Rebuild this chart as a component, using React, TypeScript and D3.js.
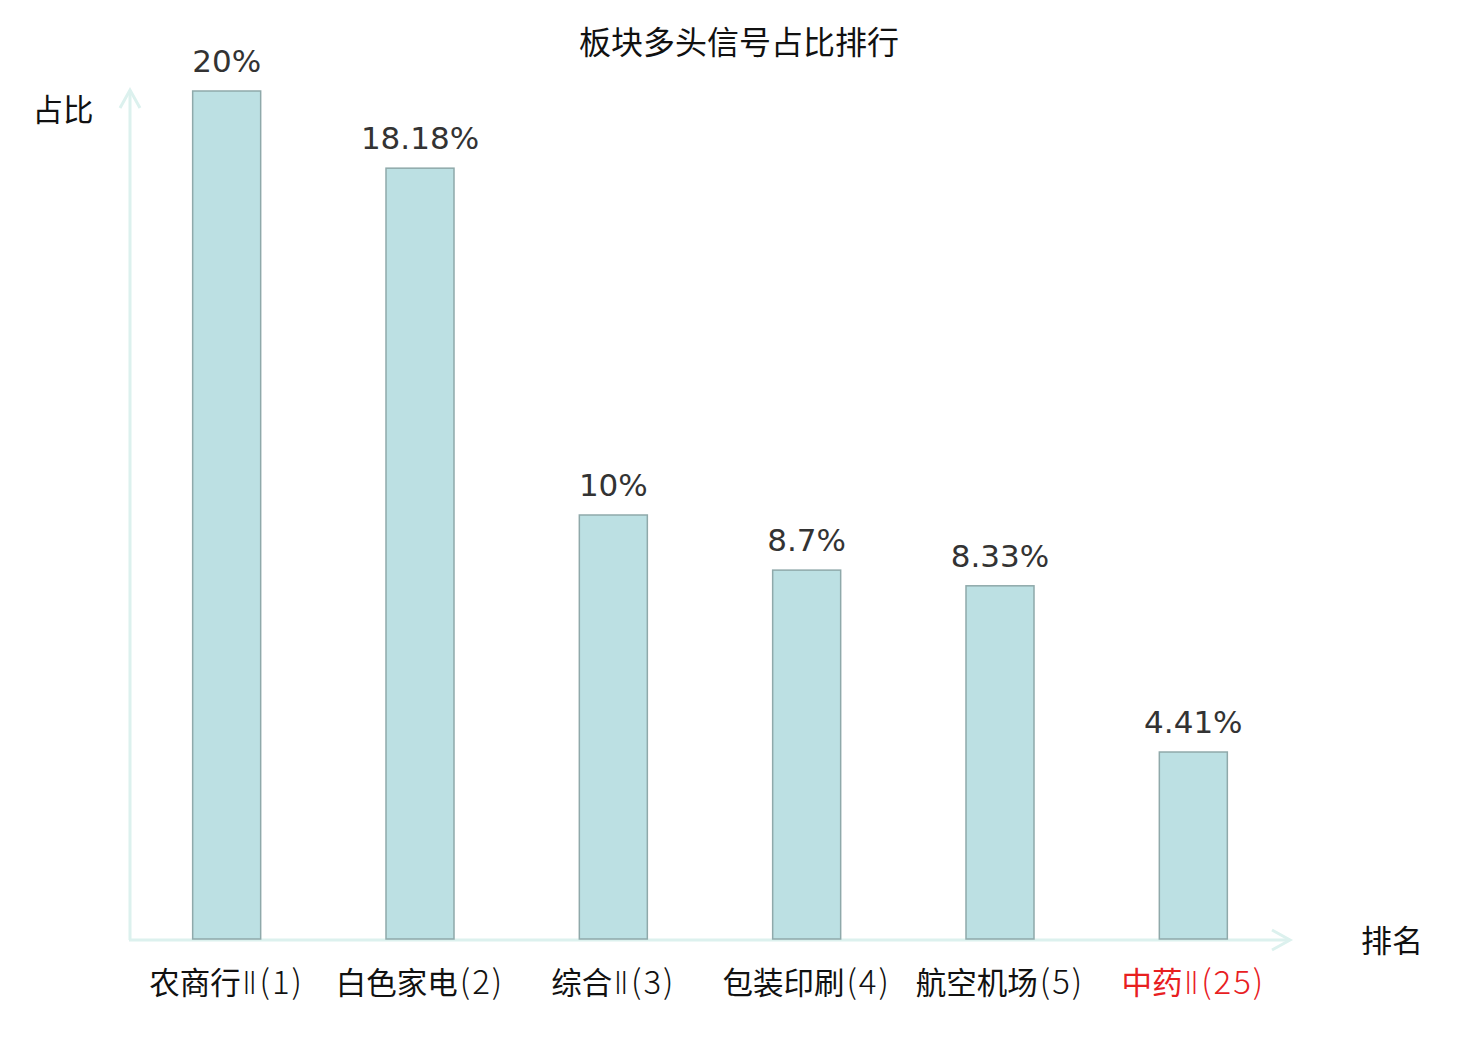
import React from "react";
import * as d3 from "d3";

const categories = ["农商行", "白色家电", "综合", "包装印刷", "航空机场", "中药"];
const suffixes = ["Ⅱ", "", "Ⅱ", "", "", "Ⅱ"];
const ranks = [1, 2, 3, 4, 5, 25];
const values = [20, 18.18, 10, 8.7, 8.33, 4.41];
const valueLabels = ["20%", "18.18%", "10%", "8.7%", "8.33%", "4.41%"];
const highlight = [false, false, false, false, false, true];

const W = 1480;
const H = 1040;
const x0 = 130;
const x1 = 1290;
const yBase = 939;
const yTop = 91;

const cjk = "'Noto Sans CJK SC', 'Noto Sans', sans-serif";
const latin = "'DejaVu Sans', sans-serif";

export default function App() {
  const x = d3.scaleBand<string>().domain(categories).range([x0, x1]).paddingInner(0).paddingOuter(0);
  const y = d3.scaleLinear().domain([0, 20]).range([yBase, yTop]);
  const bw = 68;
  const axisColor = "#dcf1ee";
  return (
    <div style={{ margin: -8 }}>
      <svg width={W} height={H} style={{ display: "block", background: "#fff" }}>
        <text x={739} y={54} textAnchor="middle" fontFamily={cjk} fontSize={32} fill="#111">
          板块多头信号占比排行
        </text>
        <text x={63} y={121} textAnchor="middle" fontFamily={cjk} fontSize={30.5} fill="#111">
          占比
        </text>
        <text x={1392} y={952} textAnchor="middle" fontFamily={cjk} fontSize={31} fill="#111">
          排名
        </text>
        {/* axes */}
        <line x1={x0} y1={yBase + 1} x2={x0} y2={90} stroke={axisColor} strokeWidth={3} />
        <polyline points={`${x0 - 10},${108} ${x0},${90} ${x0 + 10},${108}`} fill="none" stroke={axisColor} strokeWidth={3} />
        <line x1={x0 - 1} y1={yBase + 1} x2={1290} y2={yBase + 1} stroke={axisColor} strokeWidth={3} />
        <polyline points={`${1272},${yBase - 9} ${1290},${yBase + 1} ${1272},${yBase + 11}`} fill="none" stroke={axisColor} strokeWidth={3} />
        {categories.map((c, i) => {
          const cx = (x(c) as number) + x.bandwidth() / 2;
          const top = y(values[i]);
          return (
            <g key={c}>
              <rect x={cx - bw / 2} y={top} width={bw} height={yBase - top} fill="#bce0e3" stroke="#8fa9aa" strokeWidth={1.5} />
              <text x={cx} y={top - 19} textAnchor="middle" fontFamily={latin} fontSize={31} fill="#333">
                {valueLabels[i]}
              </text>
              <text x={cx} y={994} textAnchor="middle" fontFamily={cjk} fontSize={30.5} fill={highlight[i] ? "#e8201f" : "#111"}>
                {c}
                {suffixes[i] ? (
                  <tspan fontFamily={latin} fontWeight={200} fontSize={32} dx={1}>
                    {suffixes[i]}
                  </tspan>
                ) : null}
                <tspan fontWeight={200} fontSize={33} letterSpacing={2} dx={2}>
                  ({ranks[i]})
                </tspan>
              </text>
            </g>
          );
        })}
      </svg>
    </div>
  );
}
